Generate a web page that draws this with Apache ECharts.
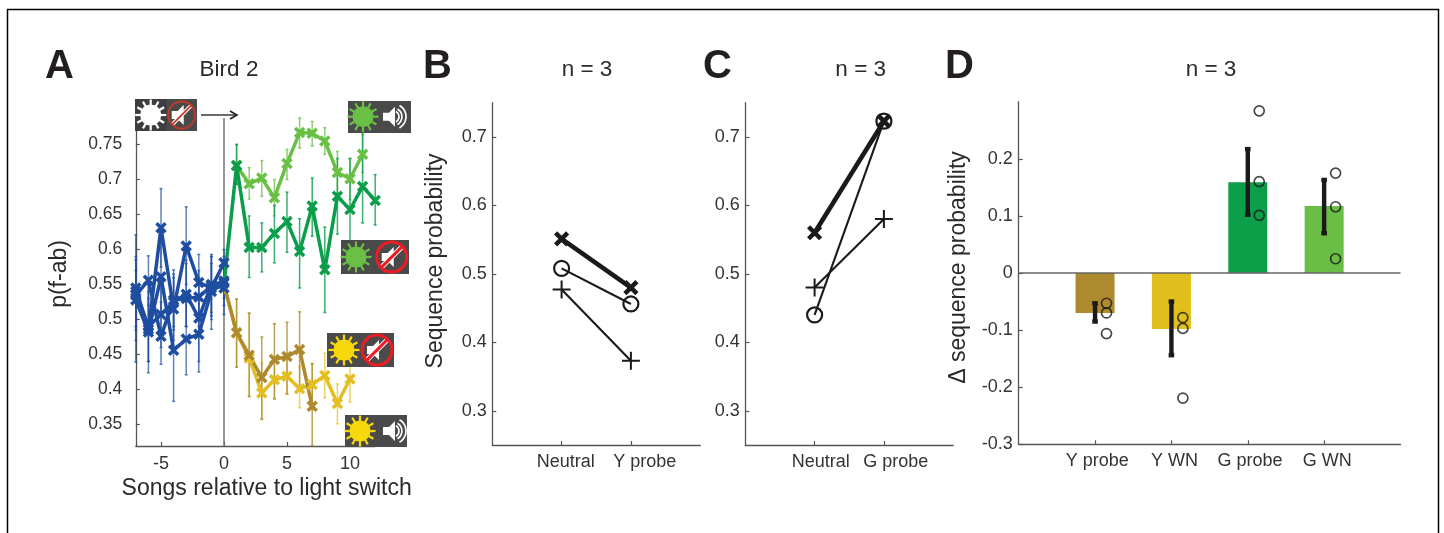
<!DOCTYPE html>
<html><head><meta charset="utf-8">
<style>html,body{margin:0;padding:0;background:#fff}#c{width:1444px;height:533px}</style>
<script src="https://cdn.jsdelivr.net/npm/echarts@6/dist/echarts.min.js"></script>
</head><body><div id="c"></div>
<script>
// ---- Panel A data ----
const preX = [-7,-6,-5,-4,-3,-2,-1,0];
const blue1 = [.545,.486,.631,.515,.605,.553,.545,.581];
const blue1Hi = [.621,.55,.687,.56,.661,.593,.593,.60];
const blue1Lo = [.47,.424,.575,.47,.55,.51,.50,.56];
const blue2 = [.535,.556,.476,.528,.530,.532,.548,.555];
const blue2Hi = [.585,.591,.525,.571,.585,.57,.59,.585];
const blue2Lo = [.485,.52,.436,.49,.49,.49,.505,.53];
const blue3 = [.528,.482,.561,.456,.472,.479,.540,.552];
const blue3Hi = [.57,.53,.61,.53,.525,.53,.58,.59];
const blue3Lo = [.439,.44,.51,.383,.421,.425,.486,.507];
const blue4 = [.540,.490,.507,.525,.536,.502,.550,.545];
const blue4Hi = [.59,.54,.56,.565,.58,.56,.59,.58];
const blue4Lo = [.49,.44,.46,.485,.49,.44,.51,.52];

const lightGreenX = [1,2,3,4,5,6,7,8,9,10,11];
const lightGreen = [.72,.694,.702,.674,.723,.767,.766,.755,.71,.701,.736];
const lightGreenHi = [.75,.717,.727,.70,.743,.788,.783,.774,.74,.73,.764];
const lightGreenLo = [.693,.672,.676,.648,.70,.745,.748,.736,.681,.671,.71];

const darkGreenX = [0,1,2,3,4,5,6,7,8,9,10,11,12];
const darkGreen = [.55,.72,.603,.603,.623,.64,.597,.662,.571,.676,.657,.69,.67];
const darkGreenHi = [.55,.75,.648,.638,.663,.682,.644,.702,.632,.73,.73,.767,.707];
const darkGreenLo = [.55,.693,.56,.568,.581,.596,.545,.619,.51,.622,.586,.638,.635];

const brownX = [0,1,2,3,4,5,6,7];
const brown = [.55,.481,.449,.417,.443,.447,.457,.376];
const brownHi = [.55,.529,.509,.475,.494,.496,.511,.437];
const brownLo = [.55,.432,.39,.358,.387,.394,.402,.32];

const yellowX = [0,1,2,3,4,5,6,7,8,9,10];
const yellow = [.55,.481,.445,.395,.414,.419,.401,.407,.42,.38,.415];
const yellowHi = [.55,.529,.509,.438,.443,.452,.433,.437,.452,.408,.448];
const yellowLo = [.55,.432,.39,.357,.386,.393,.374,.371,.388,.351,.382];

const aTicksX = [-5,0,5,10];
const aTicksY = [.35,.4,.45,.5,.55,.6,.65,.7,.75];

// ---- Panels B, C data ----
const seqTicks = [.3,.4,.5,.6,.7];
const bLabels = ['Neutral','Y probe'];
const bCross = [.551,.480];
const bCircle = [.508,.456];
const bPlus = [.477,.373];
const cLabels = ['Neutral','G probe'];
const cCross = [.560,.723];
const cCircle = [.440,.723];
const cPlus = [.480,.580];

// ---- Panel D data ----
const dLabels = ['Y probe','Y WN','G probe','G WN'];
const dMeans = [-.070,-.098,.159,.1175];
const dErrHi = [-.053,-.050,.217,.163];
const dErrLo = [-.085,-.144,.102,.0696];
const dPoints1 = [-.053,-.078,.284,.175];
const dPoints2 = [-.070,-.097,.160,.116];
const dPoints3 = [-.106,-.219,.101,.025];
const dTicks = [-.3,-.2,-.1,0,.1,.2];

// ---- Styling ----
const FONT = '"Liberation Sans", Arial, sans-serif';
const TXT = '#333333', AXC = '#555555';
const BLUE='#1f4ea1', DG='#0a9e4a', LG='#6abf45', BR='#ae8a2f', YE='#e3bf22';
const DCOL=[BR,'#e1c01e','#0c9e48','#6abd45'];
const CROSS='path://M0 0L10 10M10 0L0 10', PLUS='path://M5 0L5 10M0 5L10 5';

function zip(x,y){return x.map((v,i)=>[v,y[i]]);}
function errData(x,hi,lo){return x.map((v,i)=>[v,lo[i],hi[i]]);}

function errSeries(gi,x,hi,lo,color,opacity,width,cap,z){
  return {type:'custom',xAxisIndex:gi,yAxisIndex:gi,silent:true,clip:false,z:z||2,
    data:errData(x,hi,lo),encode:{x:0,y:[1,2]},
    renderItem(p,api){
      const a=api.coord([api.value(0),api.value(1)]),b=api.coord([api.value(0),api.value(2)]);
      const st={stroke:color,lineWidth:width,opacity:opacity};
      return {type:'group',children:[
        {type:'line',shape:{x1:a[0],y1:a[1],x2:b[0],y2:b[1]},style:st},
        {type:'line',shape:{x1:a[0]-cap,y1:a[1],x2:a[0]+cap,y2:a[1]},style:st},
        {type:'line',shape:{x1:b[0]-cap,y1:b[1],x2:b[0]+cap,y2:b[1]},style:st}]};
    }};
}
function aLine(x,y,color){
  return {type:'line',xAxisIndex:0,yAxisIndex:0,data:zip(x,y),silent:true,animation:false,
    symbol:CROSS,symbolSize:v=>v[0]===0&&color!==BLUE?0:9,showAllSymbol:true,
    lineStyle:{color,width:3.5,join:'round'},
    itemStyle:{color:'none',borderColor:color,borderWidth:3.5},clip:false};
}
function pairLine(gi,y,sym,size,lw,sw){
  return {type:'line',xAxisIndex:gi,yAxisIndex:gi,data:zip([1,2],y),silent:true,animation:false,
    symbol:sym,symbolSize:size,showAllSymbol:true,
    lineStyle:{color:'#1a1a1a',width:lw},
    itemStyle:{color:'none',borderColor:'#1a1a1a',borderWidth:sw}};
}

const axisLine={show:true,onZero:false,lineStyle:{color:AXC,width:1.3}};
const label={color:TXT,fontFamily:FONT,fontSize:18};
function xAx(gi,min,max,tickVals,labVals,texts,margin){
  return {type:'value',gridIndex:gi,min,max,splitLine:{show:false},axisLine,
    axisTick:{show:true,inside:true,length:4,customValues:tickVals,lineStyle:{color:AXC,width:1.2}},
    axisLabel:{...label,margin,customValues:labVals,hideOverlap:false,showMinLabel:true,showMaxLabel:true,
      formatter:texts?((v)=>texts[labVals.indexOf(v)]):(v=>String(v))}};
}
function yAx(gi,min,max,vals,margin,fs){
  return {type:'value',gridIndex:gi,min,max,splitLine:{show:false},axisLine,
    axisTick:{show:true,inside:true,length:4,customValues:vals,lineStyle:{color:AXC,width:1.2}},
    axisLabel:{...label,fontSize:fs||18,margin,padding:[2,0,0,0],customValues:vals,showMinLabel:true,showMaxLabel:true,formatter:v=>String(v)}};
}

// ---- Icons (pictorial decoration, not data) ----
const icons=[];
function rect(x,y,w,h,fill){icons.push({type:'rect',shape:{x,y,width:w,height:h},style:{fill},z:50});}
function sun(cx,cy,color){
  icons.push({type:'circle',shape:{cx,cy,r:10.5},style:{fill:color},z:51});
  for(let i=0;i<12;i++){const a=i*Math.PI/6;
    icons.push({type:'line',shape:{x1:cx+Math.cos(a)*9,y1:cy+Math.sin(a)*9,x2:cx+Math.cos(a)*15.5,y2:cy+Math.sin(a)*15.5},
      style:{stroke:color,lineWidth:2.2},z:51});}
}
function speaker(cx,cy,s){
  icons.push({type:'polygon',shape:{points:[[cx-9*s,cy-4*s],[cx-3*s,cy-4*s],[cx+3*s,cy-10*s],[cx+3*s,cy+10*s],[cx-3*s,cy+4*s],[cx-9*s,cy+4*s]]},
    style:{fill:'#ffffff'},z:52});
}
function waves(cx,cy){
  [6,9,13].forEach(r=>icons.push({type:'arc',shape:{cx,cy,r,startAngle:-Math.PI/3,endAngle:Math.PI/3},
    style:{stroke:'#ffffff',lineWidth:1.7,fill:'none'},z:52}));
}
function muted(cx,cy,r,color,lw){
  speaker(cx-1,cy,1);
  const d=r*0.707;
  icons.push({type:'line',shape:{x1:cx-d,y1:cy+d,x2:cx+d,y2:cy-d},style:{stroke:'#ffffff',lineWidth:lw+2},z:53});
  icons.push({type:'circle',shape:{cx,cy,r},style:{fill:'none',stroke:color,lineWidth:lw},z:54});
  icons.push({type:'line',shape:{x1:cx-d,y1:cy+d,x2:cx+d,y2:cy-d},style:{stroke:color,lineWidth:lw},z:54});
}
const GREY='#4a4a4b';
rect(135,99,32,32,'#3e3e40');rect(167,99,30,32,GREY);sun(150.7,115,'#ffffff');muted(181.7,115,13.5,'#c2392b',1.8);
rect(348,101,63,32,GREY);sun(363,116.7,LG);speaker(392,116.7,1);waves(393,116.7);
rect(341,240,68,34,GREY);sun(356,257,LG);muted(391.7,257,15,'#ed1c24',3);
rect(327,333,67,34,GREY);sun(344,350,'#f7d80c');muted(377,350,15,'#ed1c24',3);
rect(345,415,62,32,GREY);sun(360,431,'#f7d80c');speaker(392,431,1);waves(393,431);
icons.push({type:'line',shape:{x1:201,y1:115,x2:236,y2:115},style:{stroke:'#6a6a6a',lineWidth:1.8},z:50});
icons.push({type:'polyline',shape:{points:[[230,111],[237,115],[230,119]]},style:{stroke:'#222',lineWidth:1.6,fill:'none'},z:50});
// frame
icons.push({type:'line',shape:{x1:7.5,y1:9,x2:7.5,y2:533},style:{stroke:'#000',lineWidth:1.5},z:60});
icons.push({type:'line',shape:{x1:7,y1:9.5,x2:1439,y2:9.5},style:{stroke:'#000',lineWidth:1.5},z:60});
icons.push({type:'line',shape:{x1:1438.5,y1:9,x2:1438.5,y2:533},style:{stroke:'#000',lineWidth:1.5},z:60});
// axis titles
function axisTitle(text,x,y,rot){
  icons.push({type:'text',x,y,rotation:rot?Math.PI/2:0,z:40,
    style:{text,fontFamily:FONT,fontSize:23,fill:'#2a2a2a',align:'center',verticalAlign:'middle'}});
}
axisTitle('Songs relative to light switch',266.7,488.5,false);
axisTitle('p(f-ab)',60,274,true);
axisTitle('Sequence probability',436,261,true);
axisTitle('Δ sequence probability',958.5,267.5,true);

function letter(t,x){return {text:t,left:x,top:46.5,textStyle:{fontFamily:FONT,fontWeight:'bold',fontSize:40,color:'#231f20'},padding:0};}
function head(t,x){return {text:t,left:x,top:58,textAlign:'center',textStyle:{fontFamily:FONT,fontWeight:'normal',fontSize:22.5,color:'#2a2a2a'},padding:0};}

const option={
  animation:false,backgroundColor:'#fff',
  graphic:{elements:icons},
  title:[letter('A',45),letter('B',423),letter('C',703),letter('D',945),
    head('Bird 2',229),head('n = 3',587),head('n = 3',860.7),head('n = 3',1211)],
  grid:[
    {left:135.8,top:130,width:239.4,height:316},
    {left:492.3,top:102.7,width:207.9,height:342.3},
    {left:745.3,top:102.7,width:207.9,height:342.3},
    {left:1018.7,top:101.7,width:381.8,height:342.6}],
  xAxis:[
    xAx(0,-7,12,aTicksX,aTicksX,null,9),
    xAx(1,0,3,[1,2],[1.06,2.2],bLabels,8),
    xAx(2,0,3,[1,2],[1.09,2.17],cLabels,8),
    xAx(3,0,5,[1,2,3,4],[1.03,2.04,3.03,4.04],dLabels,8)],
  yAxis:[
    yAx(0,.3193,.7707,aTicksY,13.5,17.5),
    yAx(1,.25,.75,seqTicks,5.5),
    yAx(2,.25,.75,seqTicks,5.5),
    yAx(3,-.3,.3,dTicks,6)],
  series:[
    {type:'line',xAxisIndex:0,yAxisIndex:0,data:[[0,.3193],[0,.788]],symbol:'none',clip:false,silent:true,
      lineStyle:{color:'#777',width:1.5},z:1},
    errSeries(0,preX,blue1Hi,blue1Lo,BLUE,.7,1.5,1.5),
    errSeries(0,preX,blue2Hi,blue2Lo,BLUE,.7,1.5,1.5),
    errSeries(0,preX,blue3Hi,blue3Lo,BLUE,.7,1.5,1.5),
    errSeries(0,preX,blue4Hi,blue4Lo,BLUE,.7,1.5,1.5),
    aLine(preX,blue1,BLUE),aLine(preX,blue2,BLUE),aLine(preX,blue3,BLUE),aLine(preX,blue4,BLUE),
    errSeries(0,yellowX,yellowHi,yellowLo,YE,.7,1.5,1.5),
    aLine(yellowX,yellow,YE),
    errSeries(0,brownX,brownHi,brownLo,BR,.8,1.5,1.5),
    aLine(brownX,brown,BR),
    errSeries(0,lightGreenX,lightGreenHi,lightGreenLo,LG,.75,1.5,1.5),
    aLine(lightGreenX,lightGreen,LG),
    errSeries(0,darkGreenX,darkGreenHi,darkGreenLo,DG,.8,1.5,1.5),
    aLine(darkGreenX,darkGreen,DG),
    pairLine(1,bCross,CROSS,12,4.6,4.5),
    pairLine(1,bCircle,'circle',15,2.1,2.2),
    pairLine(1,bPlus,PLUS,18,2.1,2),
    pairLine(2,cCross,CROSS,12,4.6,4.5),
    pairLine(2,cCircle,'circle',15,2.1,2.2),
    pairLine(2,cPlus,PLUS,18,2.1,2),
    {type:'bar',xAxisIndex:3,yAxisIndex:3,barWidth:39,silent:true,z:2,
      data:dMeans.map((v,i)=>({value:[i+1,v],itemStyle:{color:DCOL[i]}}))},
    {type:'line',xAxisIndex:3,yAxisIndex:3,data:[[0,0],[5,0]],symbol:'none',silent:true,
      lineStyle:{color:'#666',width:1.4},z:3},
    errSeries(3,[1,2,3,4],dErrHi,dErrLo,'#1a1a1a',1,4.4,2.8,4),
    {type:'scatter',xAxisIndex:3,yAxisIndex:3,symbol:'circle',symbolSize:10,silent:true,z:5,
      data:[dPoints1,dPoints2,dPoints3].flatMap(a=>a.map((v,i)=>[i+1.15,v])),
      itemStyle:{color:'none',borderColor:'#1a1a1a',borderWidth:1.7}}
  ]
};
const chart=echarts.init(document.getElementById('c'),null,{renderer:'canvas'});
chart.setOption(option);
</script></body></html>
